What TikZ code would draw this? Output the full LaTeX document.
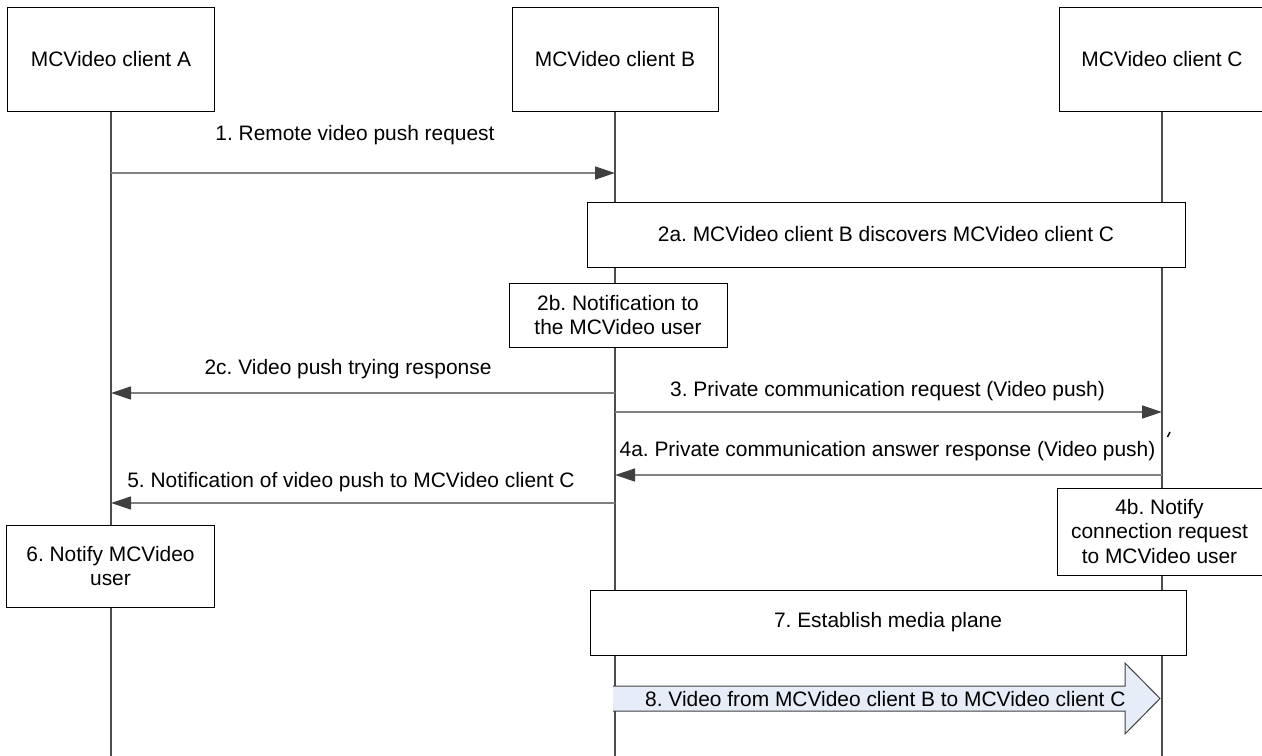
\documentclass[tikz,border=0pt]{standalone}
\usepackage{fontspec}
\setmainfont{Liberation Sans}
\usetikzlibrary{
  arrows.meta,
  positioning
}
\frenchspacing
\definecolor{seqInk}{HTML}{000000}
\definecolor{seqLine}{HTML}{808080}
\definecolor{seqLife}{HTML}{4D4D4D}
\definecolor{seqHead}{HTML}{404040}
\definecolor{seqPush}{HTML}{E6EDF8}
\tikzset{
  every node/.style={font=\fontsize{21}{25}\selectfont, text=seqInk},
  client/.style={
    draw=seqInk,
    line width=1bp,
    fill=white,
    minimum width=206bp,
    minimum height=103bp,
    inner sep=0pt
  },
  action/.style={
    draw=seqInk,
    line width=1bp,
    fill=white,
    inner sep=0pt,
    align=center
  },
  lifeline/.style={
    draw=seqLife,
    line width=1.3bp
  },
  msg/.style={
    -{Triangle[length=20bp,width=13bp,color=seqHead]},
    line width=1.3bp,
    draw=seqLine
  },
  msglabel/.style={inner sep=0pt},
  pusharrow/.style={
    draw=seqHead,
    line width=1bp,
    fill=seqPush
  }
}

\begin{document}
\begin{tikzpicture}[x=1bp, y=-1bp]
  \useasboundingbox (0,0) rectangle (1262,756);

  % clients
  \node[client] (cA) at (111,59.5) {MCVideo client A};
  \node[client, right=297bp of cA] (cB) {MCVideo client B};
  \node[client, right=340bp of cB] (cC) {MCVideo client C};

  % lifelines
  \draw[lifeline] (cA.south) -- (cA.south |- 0,756);
  \draw[lifeline] (cB.south) -- (cB.south |- 0,756);
  \draw[lifeline] (cC.south) -- (cC.south |- 0,756);

  % 1
  \draw[msg] (cA |- 0,173) -- (cB |- 0,173)
    node[msglabel, midway, yshift=38bp, xshift=-8bp] (m1) {1. Remote video push request};

  % 2a, 2b
  \node[action, minimum width=598bp, minimum height=65bp] (s2a) at (886,234.5)
    {2a. MCVideo client B discovers MCVideo client C};
  \node[action, minimum width=218bp, minimum height=64bp] (s2b) at (618,315)
    {2b. Notification to\\the MCVideo user};

  % 2c, 3, 4a, 5
  \draw[msg] (cB |- 0,393) -- (cA |- 0,393)
    node[msglabel, midway, yshift=24bp, xshift=-15bp] (m2c) {2c. Video push trying response};
  \draw[msg] (cB |- 0,412) -- (cC |- 0,412)
    node[msglabel, midway, yshift=21bp, xshift=-1bp] (m3) {3. Private communication request (Video push)};
  \draw[msg] (cC |- 0,475) -- (cB |- 0,475)
    node[msglabel, midway, yshift=24bp, xshift=-1bp] (m4a) {4a. Private communication answer response (Video push)};
  \draw[seqInk, line width=1.5bp] (1167.5,437) -- (1170,432);
  \draw[msg] (cB |- 0,503) -- (cA |- 0,503)
    node[msglabel, midway, yshift=21bp, xshift=-12bp] (m5) {5. Notification of video push to MCVideo client C};

  % 4b, 6, 7
  \node[action, minimum width=205bp, minimum height=87bp] (s4b) at (1159.5,531.5)
    {4b. Notify\\connection request\\to MCVideo user};
  \node[action, minimum width=207bp, minimum height=82bp] (s6) at (110.5,566)
    {6. Notify MCVideo\\user};
  \node[action, minimum width=596bp, minimum height=65bp] (s7) at (888,622.5)
    {7. Establish media plane};

  % 8
  \fill[seqPush] (613,686) -- (1125,686) -- (1125,663) -- (1160,698.5)
    -- (1125,734) -- (1125,711) -- (613,711) -- cycle;
  \draw[pusharrow, fill=none] (613,686) -- (1125,686) -- (1125,663) -- (1160,698.5)
    -- (1125,734) -- (1125,711) -- (613,711);
  \node[msglabel, anchor=west] (m8) at (645,699.5) {8. Video from MCVideo client B to MCVideo client C};
\end{tikzpicture}
\end{document}
